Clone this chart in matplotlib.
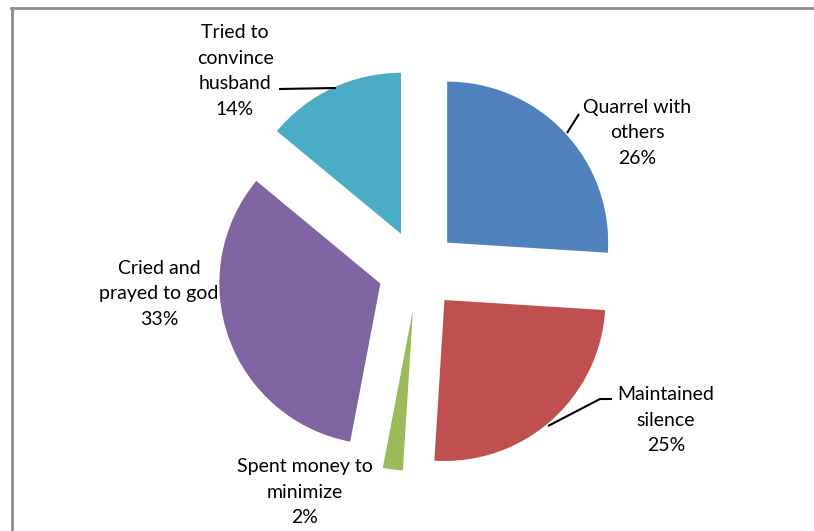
import matplotlib
matplotlib.use('Agg')
import matplotlib.pyplot as plt


plt.rcParams.update({'font.family': 'Lato', 'font.size': 14})

W, H = 814, 531

categories = ['Quarrel with\nothers', 'Maintained\nsilence', 'Spent money to\nminimize',
              'Cried and\nprayed to god', 'Tried to\nconvince\nhusband']
shares = [26, 25, 2, 33, 14]
colors = ['#4F81BD', '#C0504D', '#9BBB59', '#8064A2', '#4BACC6']

# label centres in pixel coords (x, y from top)
label_pos = [(637, 133), (666, 420), (305, 492), (159, 294), (235, 71)]
leaders = [
	[(567, 133), (579, 114)],
	[(548, 426), (600, 399), (612, 399)],
	None,
	None,
	[(279, 89), (336, 88)],
]


def flip(y):
	return H - y


fig = plt.figure(figsize=(W / 100, H / 100), dpi=100)
ax = fig.add_axes([0, 0, 1, 1])

radius = 161
# explode is in data units here (axes are in pixels)
ax.pie(shares, colors=colors, startangle=90, counterclock=False,
	   center=(418, flip(270)), radius=radius, explode=[40] * len(shares),
	   wedgeprops={'linewidth': 0}, frame=True)
ax.set_xlim(0, W)
ax.set_ylim(0, H)
ax.set_aspect('equal')
ax.axis('off')

for name, share, (x, y) in zip(categories, shares, label_pos):
	ax.text(x, flip(y), f'{name}\n{share}%', ha='center', va='center',
			linespacing=1.6, color='black')

for pts in leaders:
	if pts is None:
		continue
	xs = [p[0] for p in pts]
	ys = [flip(p[1]) for p in pts]
	ax.plot(xs, ys, color='black', linewidth=1.5, solid_capstyle='butt')

# chart frame (only left and top edges show in the crop)
ax.plot([11.5, 11.5], [flip(8), 0], color='#8c8c8c', linewidth=2)
ax.plot([11, W], [flip(8), flip(8)], color='#8c8c8c', linewidth=2)

fig.savefig('out.png', dpi=100)
